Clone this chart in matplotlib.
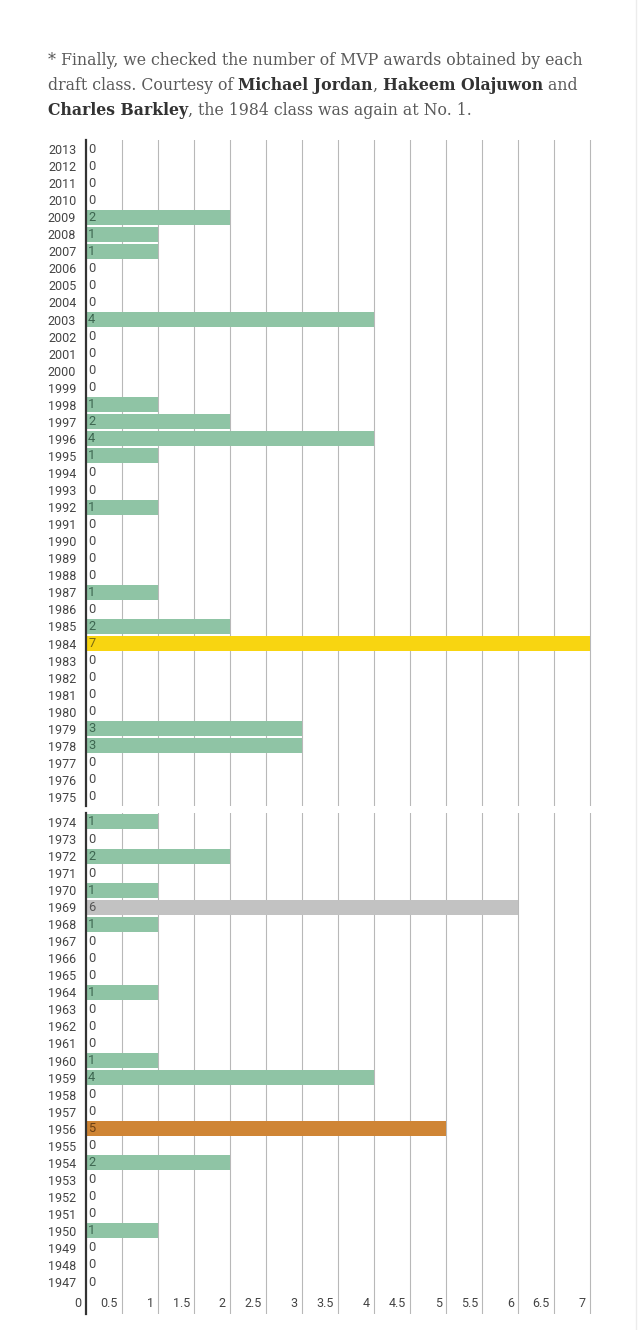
import matplotlib
matplotlib.use("Agg")
import matplotlib.pyplot as plt
import matplotlib.transforms as mtransforms
from matplotlib.lines import Line2D

# ---------------- data ----------------
years_top = [2013, 2012, 2011, 2010, 2009, 2008, 2007, 2006, 2005, 2004, 2003, 2002, 2001,
             2000, 1999, 1998, 1997, 1996, 1995, 1994, 1993, 1992, 1991, 1990, 1989, 1988,
             1987, 1986, 1985, 1984, 1983, 1982, 1981, 1980, 1979, 1978, 1977, 1976, 1975]
mvps_top = [0, 0, 0, 0, 2, 1, 1, 0, 0, 0, 4, 0, 0,
            0, 0, 1, 2, 4, 1, 0, 0, 1, 0, 0, 0, 0,
            1, 0, 2, 7, 0, 0, 0, 0, 3, 3, 0, 0, 0]
years_bot = [1974, 1973, 1972, 1971, 1970, 1969, 1968, 1967, 1966, 1965, 1964, 1963, 1962,
             1961, 1960, 1959, 1958, 1957, 1956, 1955, 1954, 1953, 1952, 1951, 1950, 1949,
             1948, 1947]
mvps_bot = [1, 0, 2, 0, 1, 6, 1, 0, 0, 0, 1, 0, 0,
            0, 1, 4, 0, 0, 5, 0, 2, 0, 0, 0, 1, 0,
            0, 0]
x_ticks = [0, 0.5, 1, 1.5, 2, 2.5, 3, 3.5, 4, 4.5, 5, 5.5, 6, 6.5, 7]
x_tick_labels = ["0", "0.5", "1", "1.5", "2", "2.5", "3", "3.5", "4", "4.5", "5", "5.5", "6", "6.5", "7"]
highlight = {1984: "#f8d511", 1969: "#c2c2c2", 1956: "#cf8535"}
label_highlight = {1984: "#7a6a10", 1969: "#555555", 1956: "#6a4015"}
base_color = "#8fc4a5"
base_label_color = "#3d6650"

title_lines = [
    [("* Finally, we checked the number of MVP awards obtained by each", False)],
    [("draft class. Courtesy of ", False), ("Michael Jordan", True), (", ", False),
     ("Hakeem Olajuwon", True), (" and", False)],
    [("Charles Barkley", True), (", the 1984 class was again at No. 1.", False)],
]

# ---------------- figure ----------------
W, H = 640, 1330
fig = plt.figure(figsize=(W / 100, H / 100), dpi=100)
fig.patch.set_facecolor("white")

def px_rect(x0, y0, x1, y1):
    return [x0 / W, 1 - y1 / H, (x1 - x0) / W, (y1 - y0) / H]

ROW = 17.05
X0, UNIT = 86, 72.0
XMAX = 7.5
x_right = X0 + XMAX * UNIT

TICK_FONT = "Roboto"
GRID_C = "#b8b8b8"

def draw_panel(ax, years, vals, extra_rows=0.0):
    n = len(years)
    ys = list(range(n))
    colors = [highlight.get(y, base_color) for y in years]
    ax.barh(ys, vals, height=0.88, color=colors, zorder=2, linewidth=0)
    ax.set_xlim(0, XMAX)
    ax.set_ylim(n - 0.5 + extra_rows, -0.5)
    for xt in x_ticks[1:]:
        ax.axvline(xt, color=GRID_C, lw=0.8, zorder=1)
    for s in ["top", "right", "bottom"]:
        ax.spines[s].set_visible(False)
    ax.spines["left"].set_color("#333333")
    ax.spines["left"].set_linewidth(1.6)
    ax.spines["left"].set_zorder(5)
    ax.set_xticks([])
    ax.set_yticks(ys)
    ax.set_yticklabels([str(y) for y in years], fontfamily=TICK_FONT, fontsize=9,
                       color="#444444")
    ax.tick_params(axis="y", length=0, pad=7)
    off = mtransforms.offset_copy(ax.transData, fig=fig, x=1.5, y=0, units="points")
    for y, v, yr in zip(ys, vals, years):
        c = "#4a4a4a" if v == 0 else label_highlight.get(yr, base_label_color)
        ax.text(0, y, str(v), transform=off, ha="left", va="center",
                fontfamily=TICK_FONT, fontsize=9.3, color=c, zorder=6)

ax1 = fig.add_axes(px_rect(X0, 149 - ROW / 2, x_right, 797 + ROW / 2))
draw_panel(ax1, years_top, mvps_top)

label_row = (1304 - 822) / ROW
extra = 1.4
ax2 = fig.add_axes(px_rect(X0, 822 - ROW / 2, x_right, 1282 + ROW / 2 + extra * ROW))
draw_panel(ax2, years_bot, mvps_bot, extra_rows=extra)
offl = mtransforms.offset_copy(ax2.transData, fig=fig, x=-3, y=0, units="points")
for xt, lab in zip(x_ticks, x_tick_labels):
    ax2.text(xt, label_row, lab, transform=offl, ha="right", va="center",
             fontfamily=TICK_FONT, fontsize=9, color="#444444", zorder=6)

# page border on the right
fig.add_artist(Line2D([636 / W, 636 / W], [0, 1], transform=fig.transFigure,
                      color="#ececec", lw=1))

# ---------------- rich title text ----------------
fig.canvas.draw()
renderer = fig.canvas.get_renderer()
TFONT = "DejaVu Serif"
TSIZE = 11.35
x_start = 48
baselines = [65, 90, 115]
for line, yb in zip(title_lines, baselines):
    x = x_start
    for txt, bold in line:
        t = fig.text(x / W, 1 - yb / H, txt, fontfamily=TFONT, fontsize=TSIZE,
                     fontweight="bold" if bold else "normal",
                     color="#333333" if bold else "#5a5a5a", va="baseline", ha="left")
        bb = t.get_window_extent(renderer=renderer)
        x += bb.width

fig.savefig("out.png", dpi=100, facecolor="white")
